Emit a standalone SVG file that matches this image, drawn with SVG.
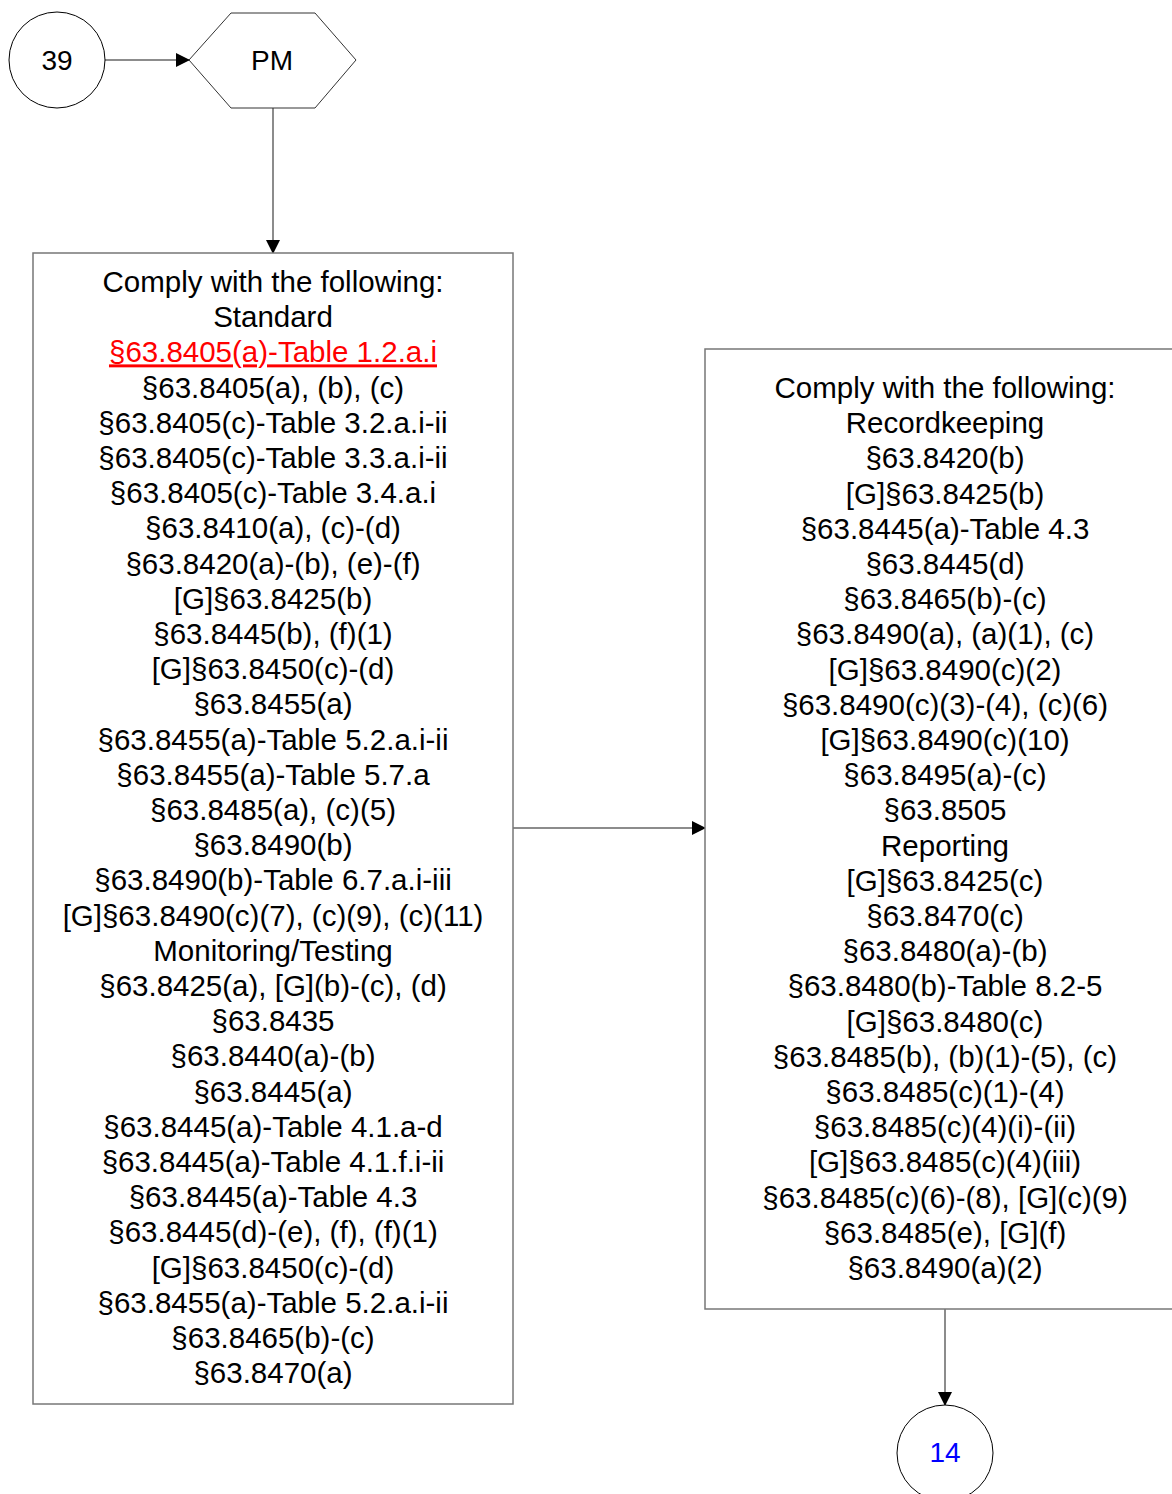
<svg xmlns="http://www.w3.org/2000/svg" width="1172" height="1494" viewBox="0 0 1172 1494">
<defs>
<marker id="arr" markerWidth="14" markerHeight="14" refX="13" refY="7" orient="auto" markerUnits="userSpaceOnUse">
<path d="M0,0 L14,7 L0,14 Z" fill="#000"/>
</marker>
<style>
.t{font-family:"Liberation Sans",Arial,sans-serif;font-size:29.5px;fill:#000;text-anchor:middle}
.l{font-family:"Liberation Sans",Arial,sans-serif;font-size:28px;fill:#000;text-anchor:middle}
.box{fill:#fff;stroke:#777;stroke-width:1.5}
.c{fill:#fff;stroke:#000;stroke-width:1}
.conn{fill:none;stroke:#666;stroke-width:1.5}
.red{fill:#f00;text-decoration:underline}
.blue{fill:#00f}
</style>
</defs>
<rect width="1172" height="1494" fill="#fff"/>
<g id="connectors">
<line class="conn" x1="105" y1="60" x2="189" y2="60" marker-end="url(#arr)"/>
<line class="conn" x1="273" y1="108" x2="273" y2="253" marker-end="url(#arr)"/>
<line class="conn" x1="513" y1="828" x2="705" y2="828" marker-end="url(#arr)"/>
<line class="conn" x1="945" y1="1309" x2="945" y2="1405" marker-end="url(#arr)"/>
</g>
<g id="n39">
<circle class="c" cx="57" cy="60" r="48"/>
<text class="l" x="57" y="70">39</text>
</g>
<g id="pm">
<polygon points="189,60 231,13 315,13 356,60 315,108 231,108" fill="#fff" stroke="#333" stroke-width="1"/>
<text class="l" x="272" y="70">PM</text>
</g>
<g id="standard">
<rect class="box" x="33" y="253" width="480" height="1151"/>
<text class="t" x="273" y="292">Comply with the following:</text>
<text class="t" x="273" y="327.2">Standard</text>
<text class="t red" x="273" y="362.4">§63.8405(a)-Table 1.2.a.i</text>
<text class="t" x="273" y="397.6">§63.8405(a), (b), (c)</text>
<text class="t" x="273" y="432.8">§63.8405(c)-Table 3.2.a.i-ii</text>
<text class="t" x="273" y="468">§63.8405(c)-Table 3.3.a.i-ii</text>
<text class="t" x="273" y="503.2">§63.8405(c)-Table 3.4.a.i</text>
<text class="t" x="273" y="538.4">§63.8410(a), (c)-(d)</text>
<text class="t" x="273" y="573.6">§63.8420(a)-(b), (e)-(f)</text>
<text class="t" x="273" y="608.8">[G]§63.8425(b)</text>
<text class="t" x="273" y="644">§63.8445(b), (f)(1)</text>
<text class="t" x="273" y="679.2">[G]§63.8450(c)-(d)</text>
<text class="t" x="273" y="714.4">§63.8455(a)</text>
<text class="t" x="273" y="749.6">§63.8455(a)-Table 5.2.a.i-ii</text>
<text class="t" x="273" y="784.8">§63.8455(a)-Table 5.7.a</text>
<text class="t" x="273" y="820">§63.8485(a), (c)(5)</text>
<text class="t" x="273" y="855.2">§63.8490(b)</text>
<text class="t" x="273" y="890.4">§63.8490(b)-Table 6.7.a.i-iii</text>
<text class="t" x="273" y="925.6">[G]§63.8490(c)(7), (c)(9), (c)(11)</text>
<text class="t" x="273" y="960.8">Monitoring/Testing</text>
<text class="t" x="273" y="996">§63.8425(a), [G](b)-(c), (d)</text>
<text class="t" x="273" y="1031.2">§63.8435</text>
<text class="t" x="273" y="1066.4">§63.8440(a)-(b)</text>
<text class="t" x="273" y="1101.6">§63.8445(a)</text>
<text class="t" x="273" y="1136.8">§63.8445(a)-Table 4.1.a-d</text>
<text class="t" x="273" y="1172">§63.8445(a)-Table 4.1.f.i-ii</text>
<text class="t" x="273" y="1207.2">§63.8445(a)-Table 4.3</text>
<text class="t" x="273" y="1242.4">§63.8445(d)-(e), (f), (f)(1)</text>
<text class="t" x="273" y="1277.6">[G]§63.8450(c)-(d)</text>
<text class="t" x="273" y="1312.8">§63.8455(a)-Table 5.2.a.i-ii</text>
<text class="t" x="273" y="1348">§63.8465(b)-(c)</text>
<text class="t" x="273" y="1383.2">§63.8470(a)</text>
</g>
<g id="recordkeeping">
<rect class="box" x="705" y="349" width="480" height="960"/>
<text class="t" x="945" y="398">Comply with the following:</text>
<text class="t" x="945" y="433.2">Recordkeeping</text>
<text class="t" x="945" y="468.4">§63.8420(b)</text>
<text class="t" x="945" y="503.6">[G]§63.8425(b)</text>
<text class="t" x="945" y="538.8">§63.8445(a)-Table 4.3</text>
<text class="t" x="945" y="574">§63.8445(d)</text>
<text class="t" x="945" y="609.2">§63.8465(b)-(c)</text>
<text class="t" x="945" y="644.4">§63.8490(a), (a)(1), (c)</text>
<text class="t" x="945" y="679.6">[G]§63.8490(c)(2)</text>
<text class="t" x="945" y="714.8">§63.8490(c)(3)-(4), (c)(6)</text>
<text class="t" x="945" y="750">[G]§63.8490(c)(10)</text>
<text class="t" x="945" y="785.2">§63.8495(a)-(c)</text>
<text class="t" x="945" y="820.4">§63.8505</text>
<text class="t" x="945" y="855.6">Reporting</text>
<text class="t" x="945" y="890.8">[G]§63.8425(c)</text>
<text class="t" x="945" y="926">§63.8470(c)</text>
<text class="t" x="945" y="961.2">§63.8480(a)-(b)</text>
<text class="t" x="945" y="996.4">§63.8480(b)-Table 8.2-5</text>
<text class="t" x="945" y="1031.6">[G]§63.8480(c)</text>
<text class="t" x="945" y="1066.8">§63.8485(b), (b)(1)-(5), (c)</text>
<text class="t" x="945" y="1102">§63.8485(c)(1)-(4)</text>
<text class="t" x="945" y="1137.2">§63.8485(c)(4)(i)-(ii)</text>
<text class="t" x="945" y="1172.4">[G]§63.8485(c)(4)(iii)</text>
<text class="t" x="945" y="1207.6">§63.8485(c)(6)-(8), [G](c)(9)</text>
<text class="t" x="945" y="1242.8">§63.8485(e), [G](f)</text>
<text class="t" x="945" y="1278">§63.8490(a)(2)</text>
</g>
<g id="n14">
<circle class="c" cx="945" cy="1453" r="48"/>
<text class="l blue" x="945" y="1462">14</text>
</g>
</svg>
